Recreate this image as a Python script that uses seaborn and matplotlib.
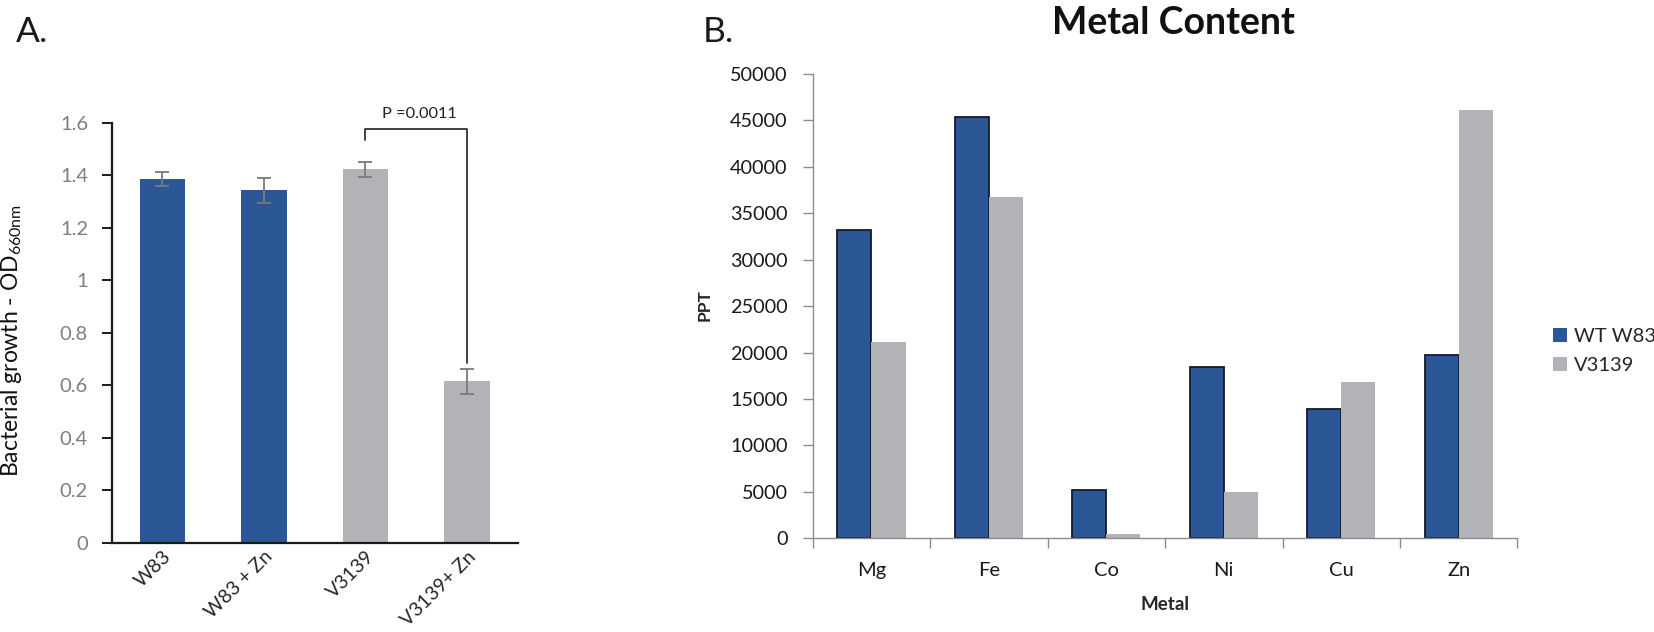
import numpy as np
import pandas as pd
import matplotlib
matplotlib.use("Agg")
import matplotlib.pyplot as plt
import matplotlib.ticker as mticker
import seaborn as sns

# panel A: bacterial growth
conditions = ["W83", "W83 + Zn", "V3139", "V3139+ Zn"]
growth = [1.384, 1.342, 1.422, 0.614]
growth_err = [0.027, 0.048, 0.028, 0.049]
growth_colors = ["#2B5797", "#2B5797", "#B2B3B7", "#B2B3B7"]
p_text = "P =0.0011"

# panel B: metal content
metals = ["Mg", "Fe", "Co", "Ni", "Cu", "Zn"]
wt_w83 = [33190, 45340, 5170, 18420, 13970, 19720]
v3139 = [21140, 36790, 450, 5020, 16870, 46150]
strains = ["WT W83", "V3139"]
strain_colors = {"WT W83": "#2B5797", "V3139": "#B2B3B7"}

sns.set_style("white")
plt.rcParams["font.family"] = ["Lato", "DejaVu Sans"]
plt.rcParams["mathtext.fontset"] = "custom"
plt.rcParams["mathtext.rm"] = "Lato"
plt.rcParams["mathtext.it"] = "Lato:italic"
plt.rcParams["mathtext.bf"] = "Lato:bold"

fig = plt.figure(figsize=(16.54, 6.32), dpi=100, facecolor="white")
ax_a = fig.add_axes([0.0675, 0.1416, 0.2455, 0.6642])
ax_b = fig.add_axes([0.4914, 0.1483, 0.4260, 0.7346])

# ---- A ----
sns.barplot(x=conditions, y=growth, hue=conditions, palette=growth_colors,
            width=0.45, saturation=1, errorbar=None, legend=False,
            linewidth=0, ax=ax_a)
ax_a.errorbar(np.arange(len(conditions)), growth, yerr=growth_err, fmt="none",
              ecolor="#7a7a7a", elinewidth=1.3, capsize=5, capthick=1.3, zorder=4)
ax_a.set_xlim(-0.5, 3.5)
ax_a.set_ylim(0, 1.6)
ax_a.yaxis.set_major_locator(mticker.MultipleLocator(0.2))
ax_a.yaxis.set_major_formatter(mticker.FuncFormatter(lambda v, p: "%g" % round(v, 1)))
for side in ["top", "right"]:
    ax_a.spines[side].set_visible(False)
for side in ["left", "bottom"]:
    ax_a.spines[side].set_color("#1a1a1a")
    ax_a.spines[side].set_linewidth(1.6)
ax_a.tick_params(axis="y", direction="out", length=7, width=1.4, color="#1a1a1a",
                 labelsize=14.5, labelcolor="#7f7f7f", pad=10, left=True)
ax_a.tick_params(axis="x", length=0, labelsize=14, labelcolor="#262626", pad=4)
plt.setp(ax_a.get_xticklabels(), rotation=45, ha="right", rotation_mode="anchor")
ax_a.set_ylabel("Bacterial growth - OD$_{\\mathrm{660nm}}$", fontsize=16.5, color="#111111")
ax_a.yaxis.set_label_coords(-0.215, 0.482)

# significance bracket
br_low_left, br_top, br_low_right = 1.533, 1.575, 0.683
ax_a.plot([2, 2, 3, 3], [br_low_left, br_top, br_top, br_low_right],
          color="#333333", lw=1.3, clip_on=False)
ax_a.text(2.536, 1.632, p_text, ha="center", va="center", fontsize=11.8,
          color="#222222", clip_on=False)

# ---- B ----
df = pd.DataFrame({
    "Metal": metals * 2,
    "Strain": [strains[0]] * len(metals) + [strains[1]] * len(metals),
    "PPT": wt_w83 + v3139,
})
sns.barplot(data=df, x="Metal", y="PPT", hue="Strain", palette=strain_colors,
            width=0.58, saturation=1, errorbar=None, linewidth=0, ax=ax_b)
for bar in ax_b.containers[0]:
    bar.set_edgecolor("#141a2a")
    bar.set_linewidth(1.3)
ax_b.set_xlim(-0.5, 5.5)
ax_b.set_ylim(0, 50000)
ax_b.yaxis.set_major_locator(mticker.MultipleLocator(5000))
for side in ["top", "right"]:
    ax_b.spines[side].set_visible(False)
for side in ["left", "bottom"]:
    ax_b.spines[side].set_color("#8c8c8c")
    ax_b.spines[side].set_linewidth(1.0)
ax_b.xaxis.set_minor_locator(mticker.FixedLocator(np.arange(-0.5, len(metals), 1.0)))
ax_b.tick_params(axis="x", which="major", length=0, labelsize=14.5,
                 labelcolor="#1a1a1a", pad=17)
ax_b.tick_params(axis="x", which="minor", direction="out", length=7, width=1.0,
                 color="#8c8c8c", bottom=True)
ax_b.tick_params(axis="y", direction="out", length=7, width=1.0, color="#8c8c8c",
                 labelsize=14.3, labelcolor="#1a1a1a", pad=11, left=True)
ax_b.set_xlabel("Metal", fontsize=13.5, fontweight="bold", labelpad=12)
ax_b.set_ylabel("PPT", fontsize=12.5, fontweight="bold")
ax_b.yaxis.set_label_coords(-0.1415, 0.502)

handles, labels = ax_b.get_legend_handles_labels()
ax_b.get_legend().remove()
fig.legend(handles, labels, loc="center left", bbox_to_anchor=(1553 / 1654, 0.4446),
           bbox_transform=fig.transFigure, frameon=False, fontsize=14.5,
           handlelength=0.7, handleheight=0.7, handletextpad=0.35,
           labelspacing=0.6, borderpad=0, borderaxespad=0)

# panel letters and title
fig.text(16 / 1654, 1 - 42 / 632, "A.", fontsize=25.5, color="#1a1a1a")
fig.text(703 / 1654, 1 - 42 / 632, "B.", fontsize=25.5, color="#1a1a1a")
fig.text(1173 / 1654, 1 - 34 / 632, "Metal Content", fontsize=27, fontweight="bold",
         ha="center", va="baseline", color="#111111")

fig.savefig("out.png", dpi=100, facecolor="white")
